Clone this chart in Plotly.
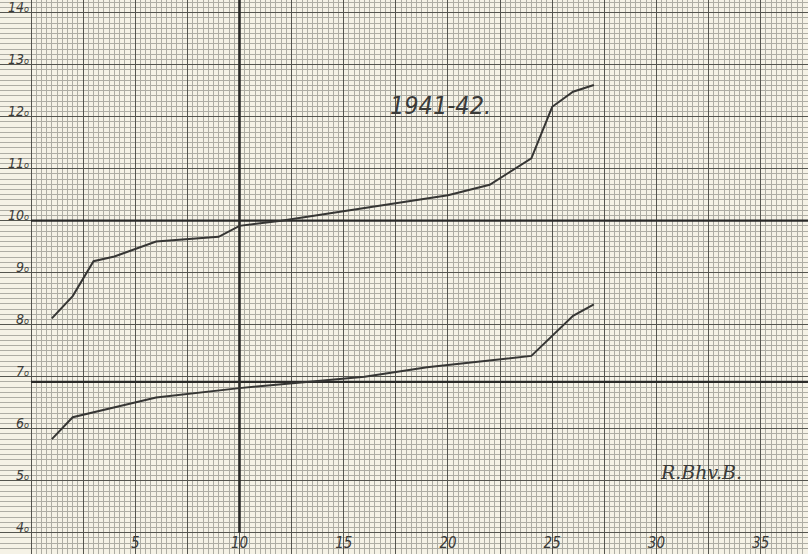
import numpy as np
import plotly.graph_objects as go

# ---- data ----
upper_x = [1, 2, 3, 4, 6, 9, 10, 12, 20, 22, 24, 25, 26, 27]
upper_y = [8.12, 8.55, 9.22, 9.31, 9.60, 9.69, 9.90, 10.00, 10.49, 10.69, 11.20, 12.19, 12.48, 12.61]
lower_x = [1, 2, 6, 10, 16, 19, 24, 26, 27]
lower_y = [5.80, 6.22, 6.60, 6.78, 7.00, 7.18, 7.40, 8.17, 8.39]

x_tick_vals = [0, 2.5, 5, 7.5, 10, 12.5, 15, 17.5, 20, 22.5, 25, 27.5, 30, 32.5, 35, 37.5]
x_tick_text = ["", "", "5", "", "10", "", "15", "", "20", "", "25", "", "30", "", "35", ""]
y_tick_vals = [4, 5, 6, 7, 8, 9, 10, 11, 12, 13, 14]
y_tick_text = [f"{v}<span style='font-size:9px'>o</span>" for v in y_tick_vals]

title_text = "1941-42."
sign_text = "R.Bhv.B."

BG = "#f5f2e6"
MINOR = "#aeada4"
MAJOR = "#55554f"
INK = "#363634"

W, H = 808, 554
x_range = [-1.487, 37.27]
y_range = [3.59, 14.244]

minor_x = [v for v in np.arange(0, 37.6, 0.25) if abs(v / 2.5 - round(v / 2.5)) > 1e-6]

fig = go.Figure()
fig.add_trace(go.Scatter(x=upper_x, y=upper_y, mode="lines",
                         line=dict(color=INK, width=2.0), showlegend=False, hoverinfo="skip"))
fig.add_trace(go.Scatter(x=lower_x, y=lower_y, mode="lines",
                         line=dict(color=INK, width=2.0), showlegend=False, hoverinfo="skip"))

# heavy reference lines on the paper
fig.add_shape(type="line", x0=10, x1=10, y0=4.0, y1=y_range[1], xref="x", yref="y",
              line=dict(color="#2a2a28", width=2.6), layer="between")
fig.add_shape(type="line", x0=0, x1=x_range[1], y0=10, y1=10, xref="x", yref="y",
              line=dict(color="#2a2a28", width=2.2), layer="between")
fig.add_shape(type="line", x0=0, x1=x_range[1], y0=6.9, y1=6.9, xref="x", yref="y",
              line=dict(color="#2a2a28", width=2.2), layer="between")

fig.add_annotation(x=19.66, y=12.22, xref="x", yref="y", text=title_text, showarrow=False,
                   font=dict(family="DejaVu Sans Condensed, Liberation Sans Narrow, DejaVu Sans",
                             size=25, color="#3a3a38", style="italic"))
fig.add_annotation(x=32.13, y=5.17, xref="x", yref="y", text=sign_text, showarrow=False,
                   font=dict(family="DejaVu Serif, Liberation Serif", size=19,
                             color="#3a3a38", style="italic"))

fig.update_layout(
    template="none",
    width=W, height=H,
    margin=dict(l=0, r=0, t=0, b=0),
    paper_bgcolor=BG, plot_bgcolor=BG,
    showlegend=False,
    xaxis=dict(range=x_range, domain=[0, 1], tickmode="array", tickvals=x_tick_vals,
               ticktext=x_tick_text, ticklabelposition="inside", ticks="",
               ticklabelstandoff=0, ticklabeloverflow="allow",
               showgrid=True, gridcolor=MAJOR, gridwidth=1.2, zeroline=False,
               showline=False, automargin=False,
               tickfont=dict(family="DejaVu Sans Condensed, DejaVu Sans", size=15,
                             color="#3a3a38", style="italic"),
               minor=dict(tickmode="array", tickvals=minor_x, showgrid=True,
                          gridcolor=MINOR, gridwidth=0.8, ticks="")),
    yaxis=dict(range=y_range, anchor="free", position=31 / W, tickmode="array",
               tickvals=y_tick_vals, ticktext=y_tick_text, ticklabelposition="outside top",
               ticks="", ticklabelstandoff=2, ticklabelshift=4, ticklabeloverflow="allow",
               showgrid=True, gridcolor=MAJOR, gridwidth=1.2, zeroline=False,
               showline=False, automargin=False,
               tickfont=dict(family="DejaVu Sans Condensed, DejaVu Sans", size=14,
                             color="#3a3a38", style="italic"),
               minor=dict(dtick=0.1, tick0=0, showgrid=True, gridcolor=MINOR,
                          gridwidth=0.8, ticks="")),
)

fig.write_html("out.html", config={"displayModeBar": False},
               post_script="document.body.style.margin='0';document.body.style.padding='0';"
                           "document.body.style.overflow='hidden';")
